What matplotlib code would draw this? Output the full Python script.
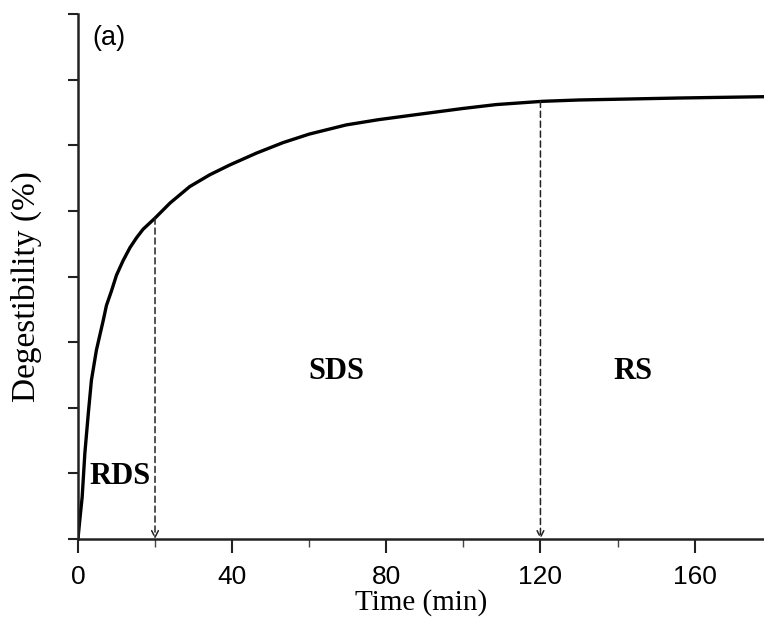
import matplotlib
matplotlib.use("Agg")
import matplotlib.pyplot as plt
from matplotlib.ticker import MultipleLocator

# Data (digestibility on an unlabelled 0-80 scale)
time_min = [0, 0.5, 1.1, 1.8, 2.7, 3.5, 4.8, 6.6, 7.4, 8.7, 10.0, 11.7, 13.5,
            15.2, 16.9, 20.0, 23.9, 29.0, 34.2, 39.4, 46.3, 53.2, 60.0, 69.6,
            78.0, 86.9, 99.8, 108.5, 120.6, 130.0, 138.7, 156.0, 178.0]
digestibility = [0, 3.0, 6.4, 13.1, 19.2, 24.2, 28.8, 33.4, 35.6, 37.8, 40.2,
                 42.4, 44.4, 45.9, 47.2, 48.9, 51.2, 53.7, 55.5, 57.0, 58.8,
                 60.4, 61.7, 63.1, 63.9, 64.6, 65.6, 66.2, 66.7, 66.9, 67.0,
                 67.2, 67.4]
cutoff_times = [20, 120]
cutoff_values = [48.9, 66.7]
region_labels = ["RDS", "SDS", "RS"]
region_x = [10.8, 67, 144]
region_y = [9.5, 25.5, 25.5]
xticks = [0, 40, 80, 120, 160]

fig = plt.figure(figsize=(7.64, 6.2), dpi=100)
ax = fig.add_axes([0.102, 0.1306, 0.898, 0.8468])

ax.plot(time_min, digestibility, color="black", lw=2.4,
        solid_capstyle="round", solid_joinstyle="round")

for t, v in zip(cutoff_times, cutoff_values):
    ax.annotate("", xy=(t, 0), xytext=(t, v),
                arrowprops=dict(arrowstyle="->", color="#222222", lw=1.1,
                                linestyle=(0, (4, 2.5)), shrinkA=0, shrinkB=0,
                                mutation_scale=12))

for lab, x, y in zip(region_labels, region_x, region_y):
    ax.text(x, y, lab, family="Liberation Serif", fontweight="bold",
            fontsize=22, ha="center", va="center")

ax.text(0.021, 0.955, "(a)", transform=ax.transAxes, family="Liberation Sans",
        fontsize=19.5, ha="left", va="center")

ax.set_xlim(0, 178)
ax.set_ylim(0, 80)
ax.set_xticks(xticks)
ax.set_xticklabels([str(v) for v in xticks], family="Liberation Sans", fontsize=19)
ax.xaxis.set_minor_locator(MultipleLocator(20))
ax.yaxis.set_major_locator(MultipleLocator(10))
ax.set_yticklabels([])

for s in ["top", "right"]:
    ax.spines[s].set_visible(False)
for s in ["left", "bottom"]:
    ax.spines[s].set_linewidth(1.8)
    ax.spines[s].set_color("#222222")

ax.tick_params(axis="x", which="major", direction="out", length=10, width=1.5,
               color="#222222", pad=9)
ax.tick_params(axis="x", which="minor", direction="out", length=6, width=1.0,
               color="#444444")
ax.tick_params(axis="y", which="major", direction="out", length=7, width=1.5,
               color="#222222")

ax.set_xlabel("Time (min)", family="Liberation Serif", fontsize=21, labelpad=0)
ax.set_ylabel("Degestibility (%)", family="Liberation Serif", fontsize=24)
ax.yaxis.set_label_coords(-0.053, 0.48)

fig.savefig("out.png", dpi=100)
